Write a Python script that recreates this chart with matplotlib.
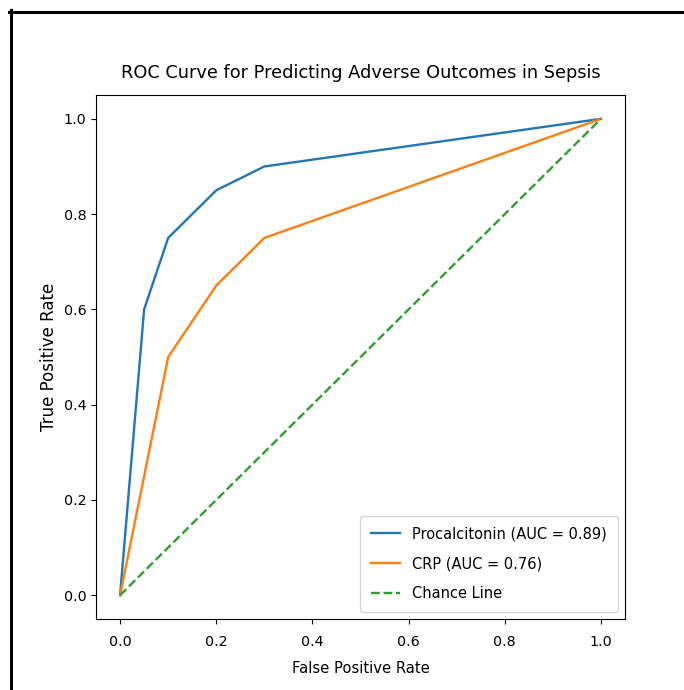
import matplotlib.pyplot as plt
from matplotlib.lines import Line2D

# ROC points
fpr_pct = [0.0, 0.05, 0.1, 0.2, 0.3, 1.0]
tpr_pct = [0.0, 0.6, 0.75, 0.85, 0.9, 1.0]
fpr_crp = [0.0, 0.1, 0.2, 0.3, 1.0]
tpr_crp = [0.0, 0.5, 0.65, 0.75, 1.0]
auc_pct = 0.89
auc_crp = 0.76
chance = [0, 1]

fig = plt.figure(figsize=(6.84, 6.90), dpi=100)
ax = fig.add_axes([0.1404, 0.1029, 0.7734, 0.7594])

ax.plot(fpr_pct, tpr_pct, color='#1f77b4', lw=1.7, label=f'Procalcitonin (AUC = {auc_pct:.2f})')
ax.plot(fpr_crp, tpr_crp, color='#ff7f0e', lw=1.7, label=f'CRP (AUC = {auc_crp:.2f})')
ax.plot(chance, chance, color='#2ca02c', lw=1.7, linestyle='--', label='Chance Line')

ax.set_xlim(-0.05, 1.05)
ax.set_ylim(-0.05, 1.05)
ax.tick_params(axis='x', labelsize=10.3, pad=8)
ax.tick_params(axis='y', labelsize=10.3)
ax.set_xlabel('False Positive Rate', fontsize=10.6, labelpad=9)
ax.set_ylabel('True Positive Rate', fontsize=12)
ax.set_title('ROC Curve for Predicting Adverse Outcomes in Sepsis', fontsize=12.8, pad=12)
ax.legend(loc='lower right', fontsize=10.5, labelspacing=1.0, borderpad=0.75)

# black frame of the screenshot (left and top only)
W, H = 684, 690
fig.add_artist(Line2D([10.5 / W, 10.5 / W], [0, 1 - 10 / H], color='black', lw=2.2))
fig.add_artist(Line2D([9 / W, 1], [1 - 11.5 / H, 1 - 11.5 / H], color='black', lw=2.2))

fig.savefig('out.png', dpi=100)
